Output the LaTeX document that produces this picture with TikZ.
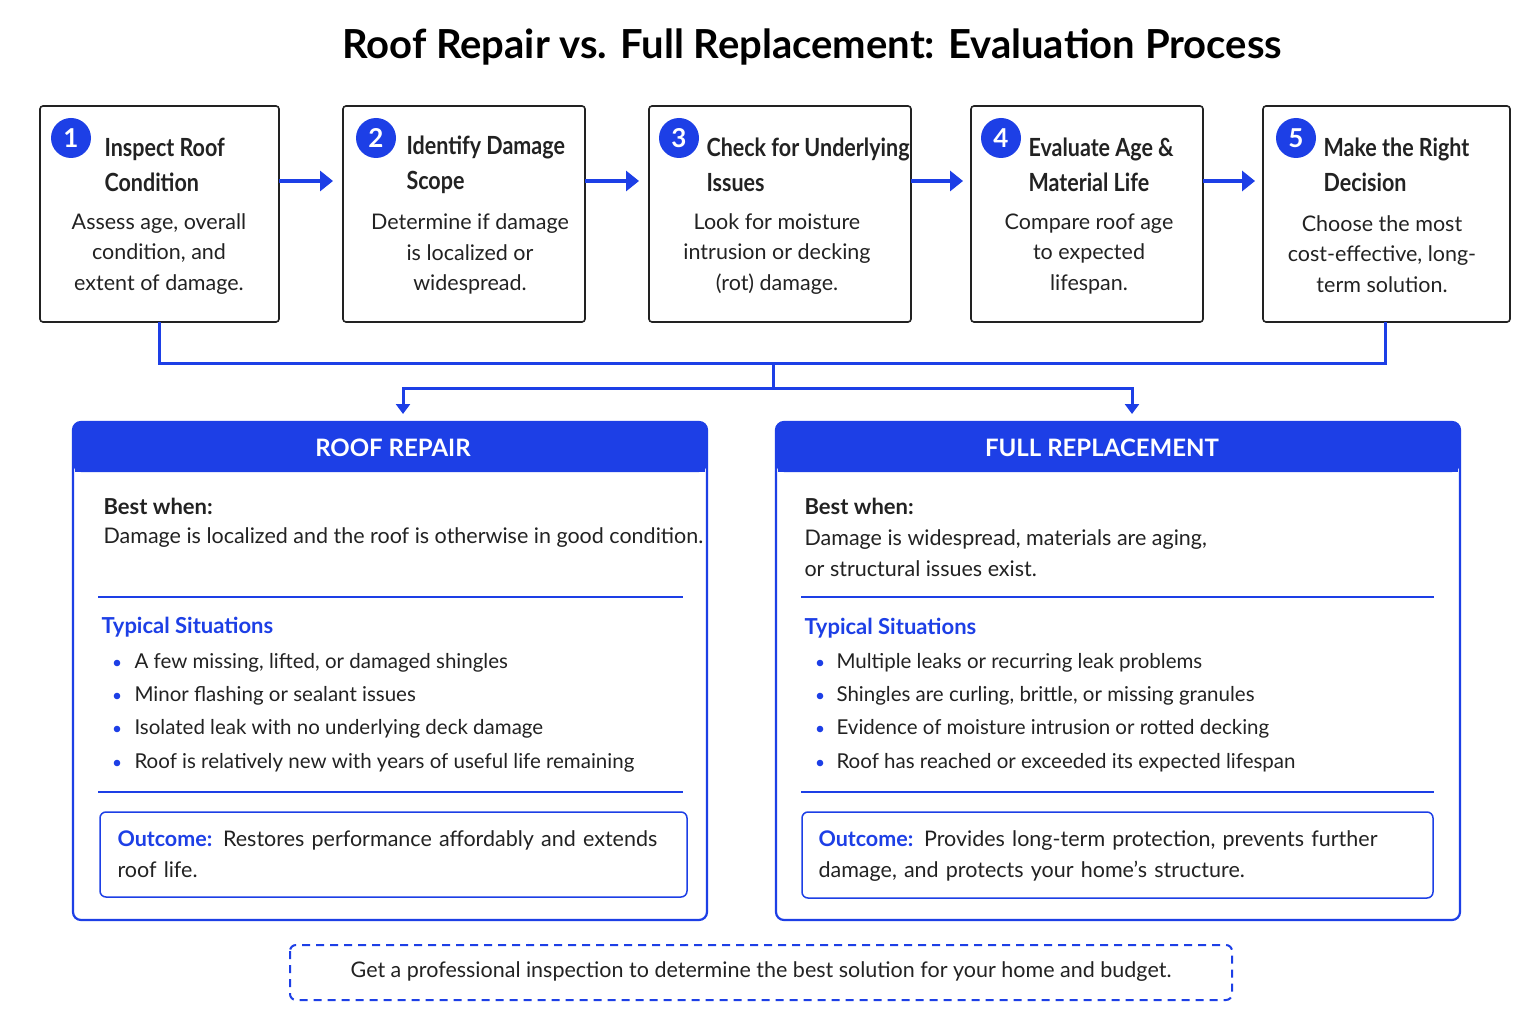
\documentclass[tikz,border=0pt]{standalone}
\usepackage{fontspec}
\setmainfont{Lato}
\newfontfamily\headf{Lato}[FakeStretch=0.86,BoldFeatures={FakeStretch=0.86}]
\usetikzlibrary{arrows.meta}
\definecolor{bl}{HTML}{1D3FE6}
\definecolor{dk}{HTML}{222222}
\begin{document}
\begin{tikzpicture}[x=1pt,y=-1pt,
  stepbox/.style={draw=dk,line width=1.6pt,rounded corners=3pt},
  num/.style={circle,fill=bl,minimum size=40pt,inner sep=0,text=white,font=\fontsize{26}{26}\selectfont\bfseries},
  stt/.style={align=left,anchor=west,font=\headf\bfseries\fontsize{25}{35}\selectfont,text=dk},
  sbody/.style={align=center,font=\fontsize{21.5}{30.5}\selectfont,text=dk},
  conn/.style={bl,line width=3pt},
  arr/.style={bl,line width=4pt,-{Triangle[length=13pt,width=20pt]}},
  panel/.style={draw=bl,line width=2.2pt,rounded corners=8pt},
  ptxt/.style={anchor=west,font=\fontsize{21.5}{30.5}\selectfont,text=dk,align=left},
  bul/.style={anchor=west,font=\fontsize{20.5}{24}\selectfont,text=dk},
  ]
\useasboundingbox (0,0) rectangle (1536,1024);
\fill[white] (0,0) rectangle (1536,1024);
\node[font=\fontsize{40}{44}\selectfont\bfseries,text=black] (title) at (812,47) {Roof Repair vs. Full Replacement: Evaluation Process};
% steps
\draw[stepbox] (40,106) rectangle (279,322); \coordinate (b1) at (159,322);
\draw[stepbox] (343,106) rectangle (585,322);
\draw[stepbox] (649,106) rectangle (911,322);
\draw[stepbox] (971,106) rectangle (1203,322);
\draw[stepbox] (1263,106) rectangle (1510,322); \coordinate (b5) at (1385,322);
\node[num] (n1) at (71,138) {1};
\node[num] (n2) at (376,138) {2};
\node[num] (n3) at (679,138) {3};
\node[num] (n4) at (1001,138) {4};
\node[num] (n5) at (1296,138) {5};
\node[stt] (t1) at (101,165) {Inspect Roof\\Condition};
\node[stt] (t2) at (403,165) {Identify Damage\\Scope};
\node[stt] (t3) at (703,165) {Check for Underlying\\Issues};
\node[stt] (t4) at (1025,165) {Evaluate Age \&\\Material Life};
\node[stt] (t5) at (1320,165) {Make the Right\\Decision};
\node[sbody] (d1) at (159,254) {Assess age, overall\\condition, and\\extent of damage.};
\node[sbody] (d2) at (470,254) {Determine if damage\\is localized or\\widespread.};
\node[sbody] (d3) at (777,254) {Look for moisture\\intrusion or decking\\(rot) damage.};
\node[sbody] (d4) at (1089,254) {Compare roof age\\to expected\\lifespan.};
\node[sbody] (d5) at (1382,254) {Choose the most\\cost-effective, long-\\term solution.};
\coordinate (a1) at (279,181); \coordinate (a1e) at (333,181);
\coordinate (a2) at (585,181); \coordinate (a2e) at (639,181);
\coordinate (a3) at (911,181); \coordinate (a3e) at (963,181);
\coordinate (a4) at (1203,181); \coordinate (a4e) at (1255,181);
\draw[arr] (a1)--(a1e); \draw[arr] (a2)--(a2e); \draw[arr] (a3)--(a3e); \draw[arr] (a4)--(a4e);
% connectors
\coordinate (mid) at (773,363); \coordinate (mid2) at (773,388);
\coordinate (lt) at (403,414); \coordinate (rt) at (1132,414);
\draw[conn] (b1) |- (mid) -| (b5);
\draw[conn] (mid) -- (mid2);
\draw[conn,-{Triangle[length=10pt,width=14pt]}] (mid2) -| (lt);
\draw[conn,-{Triangle[length=10pt,width=14pt]}] (mid2) -| (rt);
% panels
\foreach \xa/\xb in {73/707,776/1460}{
  \fill[bl,rounded corners=8pt] (\xa,422) rectangle (\xb,472);
  \fill[bl] (\xa+2,455) rectangle (\xb-2,472);
  \draw[panel] (\xa,422) rectangle (\xb,920);
}
\node[text=white,font=\fontsize{24}{26}\selectfont\bfseries] (h1) at (393,448) {ROOF REPAIR};
\node[text=white,font=\fontsize{24}{26}\selectfont\bfseries] (h2) at (1102,448) {FULL REPLACEMENT};
% left content
\node[ptxt,font=\fontsize{22}{26}\selectfont\bfseries] (bw1) at (100,506) {Best when:};
\node[ptxt] (bt1) at (100,538) {Damage is localized and the roof is otherwise in good condition.};
\draw[bl,line width=1.5pt] (98,597) -- (683,597);
\node[ptxt,text=bl,font=\fontsize{22}{26}\selectfont\bfseries] (ts1) at (98,627) {Typical Situations};
\foreach \y/\t in {663/{A few missing, lifted, or damaged shingles},696/{Minor flashing or sealant issues},729/{Isolated leak with no underlying deck damage},763/{Roof is relatively new with years of useful life remaining}}{
  \fill[bl] (117,\y) circle (3.3pt);
  \node[bul] at (131,\y) {\t};
}
\draw[bl,line width=1.5pt] (98,792) -- (683,792);
\draw[bl,line width=1.5pt,rounded corners=6pt] (100,812) rectangle (687,897);
\node[ptxt,text width=560pt] (o1) at (114,854) {\textcolor{bl}{\bfseries Outcome:} Restores performance affordably and extends roof life.};
% right content
\node[ptxt,font=\fontsize{22}{26}\selectfont\bfseries] (bw2) at (801,506) {Best when:};
\node[ptxt] (bt2) at (801,553) {Damage is widespread, materials are aging,\\or structural issues exist.};
\draw[bl,line width=1.5pt] (801,597) -- (1434,597);
\node[ptxt,text=bl,font=\fontsize{22}{26}\selectfont\bfseries] (ts2) at (801,628) {Typical Situations};
\foreach \y/\t in {663/{Multiple leaks or recurring leak problems},696/{Shingles are curling, brittle, or missing granules},729/{Evidence of moisture intrusion or rotted decking},763/{Roof has reached or exceeded its expected lifespan}}{
  \fill[bl] (820,\y) circle (3.3pt);
  \node[bul] at (833,\y) {\t};
}
\draw[bl,line width=1.5pt] (801,792) -- (1434,792);
\draw[bl,line width=1.5pt,rounded corners=6pt] (802,812) rectangle (1433,898);
\node[ptxt,text width=590pt] (o2) at (815,856) {\textcolor{bl}{\bfseries Outcome:} Provides long-term protection, prevents further damage, and protects your home’s structure.};
% bottom
\draw[bl,line width=2pt,dashed,dash pattern=on 8pt off 6pt,rounded corners=6pt] (290,945) rectangle (1232,1000);
\node[font=\fontsize{21.5}{24}\selectfont,text=dk] (foot) at (761,972) {Get a professional inspection to determine the best solution for your home and budget.};
\end{tikzpicture}
\end{document}
